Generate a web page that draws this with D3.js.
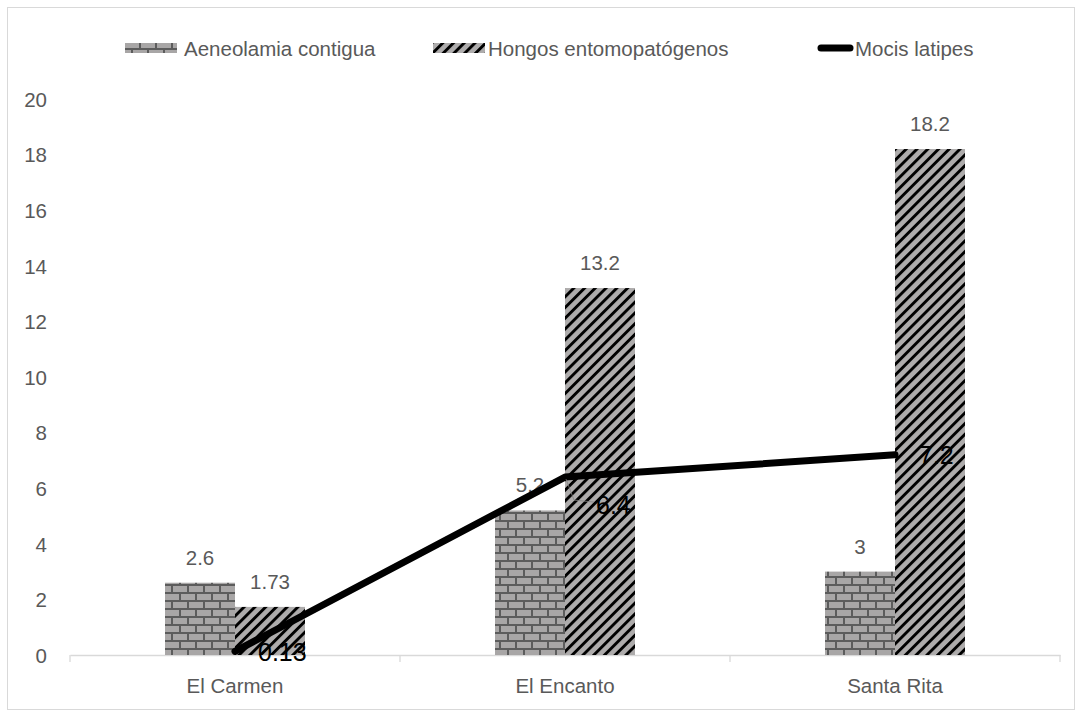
<!DOCTYPE html>
<html><head><meta charset="utf-8">
<script src="https://cdn.jsdelivr.net/npm/d3@7"></script>
<style>
body{margin:0;background:#fff;}
svg text{font-family:"Liberation Sans","DejaVu Sans",sans-serif;}
</style></head>
<body>
<svg id="chart" width="1078" height="711"></svg>
<script>
// Data
const categories = ["El Carmen", "El Encanto", "Santa Rita"];
const aeneolamia = [2.6, 5.2, 3];
const hongos = [1.73, 13.2, 18.2];
const mocis = [0.13, 6.4, 7.2];
const yTicks = [0, 2, 4, 6, 8, 10, 12, 14, 16, 18, 20];
const seriesNames = ["Aeneolamia contigua", "Hongos entomopatógenos", "Mocis latipes"];

const svg = d3.select("#chart");
const plot = {left: 70, right: 1060, top: 99, bottom: 655};
const textColor = "#595959";
const fs = "20.5px";

// Patterns: brick and diagonal hatch
const defs = svg.append("defs");
const brick = defs.append("pattern").attr("id", "brick")
  .attr("patternUnits", "userSpaceOnUse").attr("width", 16).attr("height", 16);
brick.append("rect").attr("width", 16).attr("height", 16).attr("fill", "#a8a6a6");
brick.append("path")
  .attr("d", "M0,1H16 M0,9H16 M4,0V8 M12,8V16")
  .attr("stroke", "#5c5c5c").attr("stroke-width", 2).attr("fill", "none");

const hatch = defs.append("pattern").attr("id", "hatch")
  .attr("patternUnits", "userSpaceOnUse").attr("width", 7.6).attr("height", 10)
  .attr("patternTransform", "rotate(45)");
hatch.append("rect").attr("width", 7.6).attr("height", 10).attr("fill", "#aeacac");
hatch.append("rect").attr("x", 0).attr("width", 2.9).attr("height", 10).attr("fill", "#000");

// Outer frame
svg.append("rect").attr("x", 7.5).attr("y", 7.5).attr("width", 1067).attr("height", 702)
  .attr("fill", "none").attr("stroke", "#d9d9d9").attr("stroke-width", 1);

// Scales
const x = d3.scaleBand().domain(categories).range([plot.left, plot.right]).paddingInner(0).paddingOuter(0);
const y = d3.scaleLinear().domain([0, 20]).range([plot.bottom, plot.top]);
const barW = 70;

// Y axis labels
const yAxis = d3.axisLeft(y).tickValues(yTicks).tickSize(0).tickPadding(0).tickFormat(d3.format("d"));
const gy = svg.append("g").attr("transform", `translate(47,0)`).call(yAxis);
gy.select(".domain").remove();
gy.selectAll("text").attr("fill", textColor).style("font-size", fs).attr("dy", "0.36em");

// X axis
const gx = svg.append("g").attr("transform", `translate(0,${plot.bottom})`)
  .call(d3.axisBottom(x).tickSize(0));
gx.select(".domain").attr("stroke", "#d9d9d9").attr("stroke-width", 1.3);
gx.selectAll("text").attr("fill", textColor).style("font-size", fs).attr("y", 38).attr("dy", 0);
// Category boundary ticks
const bounds = categories.map(c => x(c)).concat([x(categories[categories.length - 1]) + x.bandwidth()]);
svg.append("g").selectAll("line").data(bounds).join("line")
  .attr("x1", d => d).attr("x2", d => d)
  .attr("y1", plot.bottom).attr("y2", plot.bottom + 7)
  .attr("stroke", "#d9d9d9").attr("stroke-width", 1.3);

const cx = c => x(c) + x.bandwidth() / 2;

// Bars
const bars = svg.append("g");
bars.selectAll(".aen").data(categories).join("rect")
  .attr("x", c => cx(c) - barW).attr("width", barW)
  .attr("y", (c, i) => y(aeneolamia[i])).attr("height", (c, i) => y(0) - y(aeneolamia[i]))
  .attr("fill", "url(#brick)");
bars.selectAll(".hon").data(categories).join("rect")
  .attr("x", c => cx(c)).attr("width", barW)
  .attr("y", (c, i) => y(hongos[i])).attr("height", (c, i) => y(0) - y(hongos[i]))
  .attr("fill", "url(#hatch)");

// Bar value labels
const lbl = svg.append("g").attr("fill", textColor).style("font-size", fs).attr("text-anchor", "middle");
categories.forEach((c, i) => {
  lbl.append("text").attr("x", cx(c) - barW / 2).attr("y", y(aeneolamia[i]) - 18).text(aeneolamia[i]);
  lbl.append("text").attr("x", cx(c) + barW / 2).attr("y", y(hongos[i]) - 18).text(hongos[i]);
});

// Line series
const line = d3.line().x((d, i) => cx(categories[i])).y(d => y(d));
svg.append("path").datum(mocis).attr("d", line)
  .attr("fill", "none").attr("stroke", "#000").attr("stroke-width", 7)
  .attr("stroke-linecap", "round").attr("stroke-linejoin", "round");

// Leader line for the displaced middle label
const p1 = [cx(categories[1]), y(mocis[1])];
svg.append("path")
  .attr("d", `M${p1[0] + 1},${p1[1] + 2}L${p1[0] + 9},${p1[1] + 23}L${p1[0] + 29},${p1[1] + 25}`)
  .attr("fill", "none").attr("stroke", "#808080").attr("stroke-width", 0.8);

// Line value labels
const lineOffsets = [[23, 1], [31, 28], [24, 0]];
svg.append("g").attr("fill", "#000").style("font-size", "25px").selectAll("text").data(mocis).join("text")
  .attr("x", (d, i) => cx(categories[i]) + lineOffsets[i][0])
  .attr("y", (d, i) => y(d) + lineOffsets[i][1])
  .attr("dy", "0.36em")
  .text(d => d);

// Legend
const leg = svg.append("g").style("font-size", fs).attr("fill", textColor);
leg.append("rect").attr("x", 125).attr("y", 43).attr("width", 52).attr("height", 10).attr("fill", "url(#brick)");
leg.append("text").attr("x", 184).attr("y", 56).text(seriesNames[0]);
leg.append("rect").attr("x", 433).attr("y", 43).attr("width", 52).attr("height", 10).attr("fill", "url(#hatch)");
leg.append("text").attr("x", 488).attr("y", 56).text(seriesNames[1]);
leg.append("line").attr("x1", 821).attr("x2", 850).attr("y1", 48).attr("y2", 48)
  .attr("stroke", "#000").attr("stroke-width", 7).attr("stroke-linecap", "round");
leg.append("text").attr("x", 855).attr("y", 56).text(seriesNames[2]);
</script>
</body></html>
